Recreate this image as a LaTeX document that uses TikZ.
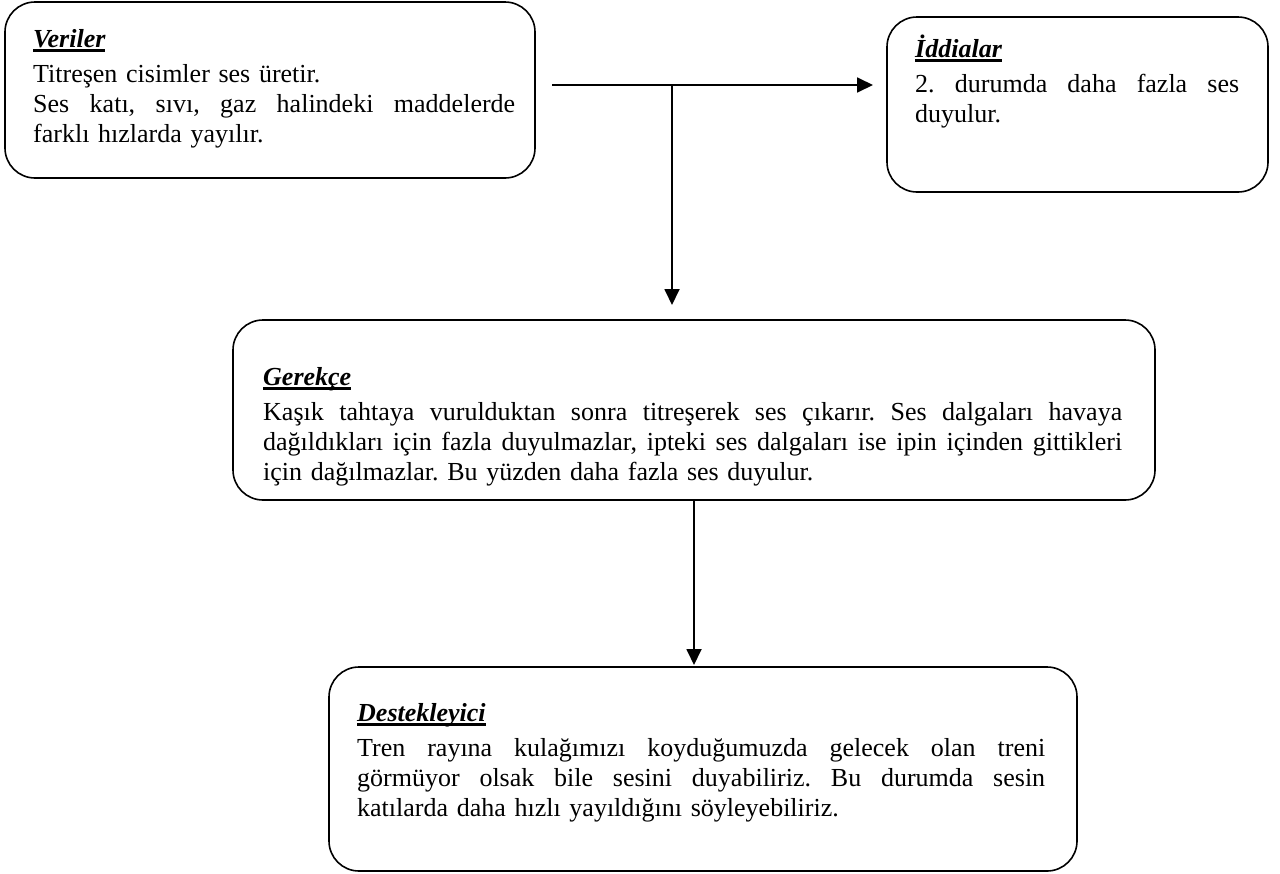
\documentclass[tikz,border=0pt]{standalone}
\usepackage{fontspec}
\setmainfont{Liberation Serif}
\usetikzlibrary{arrows.meta}
\frenchspacing

% underlined bold-italic heading with a heavy rule
\newsavebox\hdbox
\newcommand\headul[1]{\sbox\hdbox{\bfseries\itshape #1}\rlap{\rule[-5pt]{\wd\hdbox}{2.8pt}}\usebox\hdbox}
% a fully justified line of given width (pt): word spaces stretch to fill it
\newcommand\jl[2]{\leavevmode{\spaceskip=0.25em plus 1fil\relax
  \xspaceskip=0.25em plus 1fil\relax
  \hbox to #1pt{#2}}}

\tikzset{
  box/.style={draw, line width=1.6pt, rounded corners=30pt, inner sep=0pt, outer sep=0pt},
  txt/.style={anchor=base west, inner sep=0pt, align=left,
              font=\fontsize{26}{30}\selectfont},
  conn/.style={line width=1.8pt, -{Triangle[length=16pt,width=15pt]}},
}

\begin{document}
\begin{tikzpicture}[x=1pt,y=-1pt]
\useasboundingbox (0,0) rectangle (1280,873);

% boxes
\node[box, minimum width=530pt, minimum height=176pt] (ver) at (270,90) {};
\node[box, minimum width=381pt, minimum height=175pt] (idd) at (1077.5,104.5) {};
\node[box, minimum width=922pt, minimum height=180pt] (ger) at (694,410) {};
\node[box, minimum width=748pt, minimum height=204pt] (des) at (703,769) {};

% texts
\node[txt, text width=482pt] (vertxt) at (33,47) {%
\headul{Veriler}\\[5pt]
Titreşen cisimler ses üretir.\\
\jl{482}{Ses katı, sıvı, gaz halindeki maddelerde}\\
farklı hızlarda yayılır.};

\node[txt, text width=324pt] (iddtxt) at (915,57) {%
\headul{İddialar}\\[5pt]
\jl{324}{2. durumda daha fazla ses}\\
duyulur.};

\node[txt, text width=859pt] (gertxt) at (263,385) {%
\headul{Gerekçe}\\[5pt]
\jl{859}{Kaşık tahtaya vurulduktan sonra titreşerek ses çıkarır. Ses dalgaları havaya}\\
\jl{859}{dağıldıkları için fazla duyulmazlar, ipteki ses dalgaları ise ipin içinden gittikleri}\\
için dağılmazlar. Bu yüzden daha fazla ses duyulur.};

\node[txt, text width=688pt] (destxt) at (357,721) {%
\headul{Destekleyici}\\[5pt]
\jl{688}{Tren rayına kulağımızı koyduğumuzda gelecek olan treni}\\
\jl{688}{görmüyor olsak bile sesini duyabiliriz. Bu durumda sesin}\\
katılarda daha hızlı yayıldığını söyleyebiliriz.};

% connectors
\coordinate (hstart) at (552,85);
\coordinate (tee) at (672,85);
\draw[conn, shorten >=14pt] (hstart) -- (hstart -| idd.west);
\draw[conn, shorten >=15pt] (tee) -- (tee |- ger.north);
\draw[conn, shorten >=2pt] (ger.south) -- (ger.south |- des.north);
\end{tikzpicture}
\end{document}
